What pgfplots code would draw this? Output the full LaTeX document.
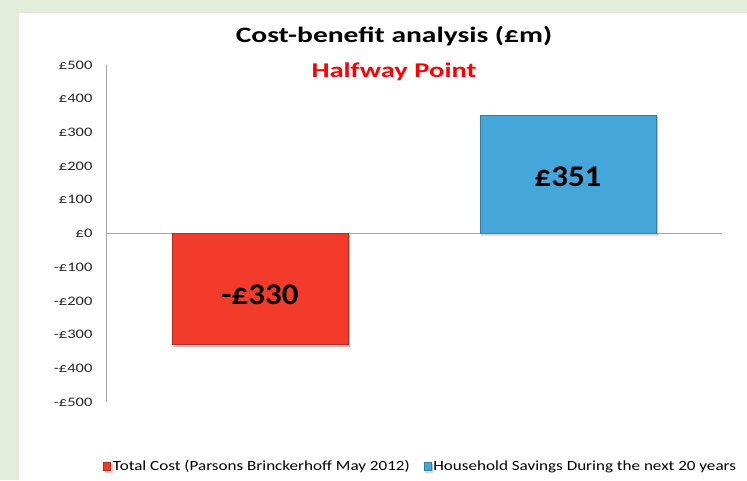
\documentclass[border=0pt]{standalone}
\usepackage{fontspec}
\setmainfont{Carlito}
\usepackage{graphicx}
\usepackage{pgfplots}
\pgfplotsset{compat=1.18}
\usetikzlibrary{shadows}
\definecolor{bggreen}{HTML}{E2EDDC}
\definecolor{barred}{HTML}{F33B2C}
\definecolor{barblue}{HTML}{45A7D9}
\definecolor{axgray}{HTML}{A6A6A6}
\newcommand{\sx}[1]{\scalebox{1.27}[1]{#1}}
\newcommand{\lx}[1]{\scalebox{1.22}[1]{#1}}
\begin{document}
\begin{tikzpicture}[x=1pt,y=1pt]
\useasboundingbox (0pt,0pt) rectangle (747pt,480pt);
\fill[bggreen] (0pt,0pt) rectangle (747pt,480pt);
\fill[white] (19pt,0pt) rectangle (747pt,467pt);
\node[font=\fontsize{22}{26}\selectfont\bfseries] at (394pt,444pt) {\scalebox{1.34}[1]{Cost-benefit analysis (£m)}};
\node[font=\fontsize{21}{25}\selectfont\bfseries, text=red] at (394pt,408pt) {\scalebox{1.36}[1]{Halfway Point}};
\begin{axis}[
  at={(106pt,78pt)}, anchor=south west,
  scale only axis, width=616pt, height=337pt,
  xmin=0, xmax=2, ymin=-500, ymax=500,
  axis x line=none,
  axis y line*=left,
  axis line style={axgray, line width=0.8pt},
  y axis line style={-},
  ytick={-500,-400,...,500},
  yticklabels={\sx{-£500},\sx{-£400},\sx{-£300},\sx{-£200},\sx{-£100},\sx{£0},\sx{£100},\sx{£200},\sx{£300},\sx{£400},\sx{£500}},
  yticklabel style={font=\fontsize{13}{15}\selectfont, text=black!85, xshift=-10pt},
  major tick length=0pt,
  extra y ticks={0},
  extra y tick labels={},
  extra y tick style={grid=major, major grid style={axgray, line width=0.8pt}},
  ybar, bar width=176pt, bar shift=0pt,
  legend style={at={(0.511,-0.19)}, anchor=center, draw=none, fill=none,
    legend columns=2, font=\fontsize{14}{16}\selectfont,
    /tikz/every even column/.append style={column sep=12pt}},
  legend image code/.code={\fill[#1] (0pt,-4pt) rectangle (7pt,4pt);},
]
\addplot[fill=barred, draw=barred!75!black, line width=0.5pt,
  drop shadow={shadow xshift=1.5pt, shadow yshift=-2pt, opacity=0.25}] coordinates {(0.5,-330)};
\addlegendentry{\lx{Total Cost (Parsons Brinckerhoff May 2012)}}
\addplot[fill=barblue, draw=barblue!75!black, line width=0.5pt,
  drop shadow={shadow xshift=1.5pt, shadow yshift=-2pt, opacity=0.25}] coordinates {(1.5,351)};
\addlegendentry{\lx{Household Savings During the next 20 years}}
\addplot[draw=none, mark=none, point meta=explicit symbolic, nodes near coords,
  nodes near coords style={anchor=center, font=\fontsize{30}{34}\selectfont\bfseries, text=black},
  forget plot] table[meta=label] {
x y label
0.5 -183 {\scalebox{1.1}[1]{-£330}}
1.5 169 {\scalebox{1.1}[1]{£351}}
};
\end{axis}
\end{tikzpicture}
\end{document}
